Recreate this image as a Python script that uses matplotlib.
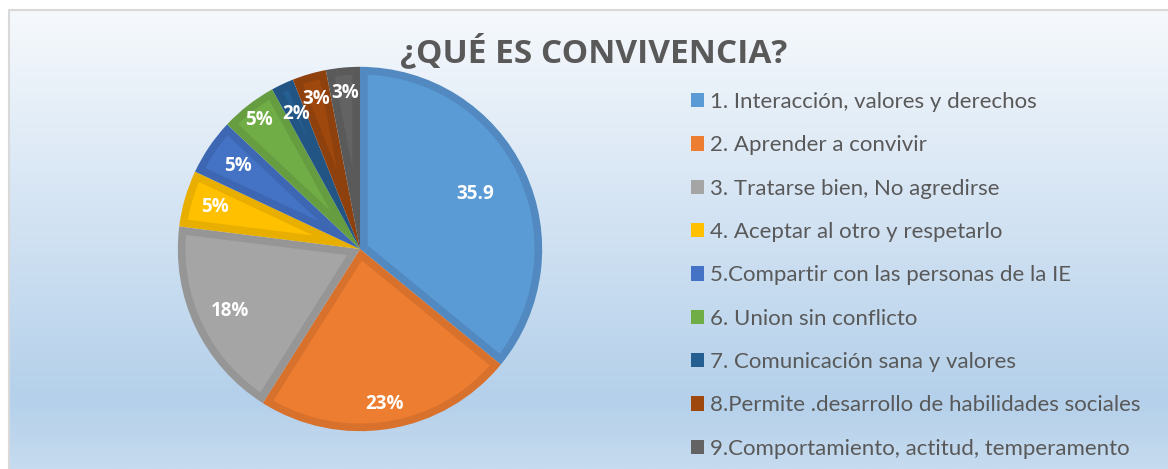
import numpy as np
import matplotlib
matplotlib.use("Agg")
import matplotlib.pyplot as plt
from matplotlib.patches import Rectangle, Polygon
from matplotlib.colors import LinearSegmentedColormap

# data
categories = [
    "1. Interacción, valores y derechos",
    "2. Aprender a convivir",
    "3. Tratarse bien, No agredirse",
    "4. Aceptar al otro y respetarlo",
    "5.Compartir con las personas de la IE",
    "6. Union sin conflicto",
    "7. Comunicación sana y valores",
    "8.Permite .desarrollo de habilidades sociales",
    "9.Comportamiento, actitud, temperamento",
]
values = [35.9, 23, 18, 5, 5, 5, 2, 3, 3]
value_labels = ["35.9", "23%", "18%", "5%", "5%", "5%", "2%", "3%", "3%"]
colors = ["#5b9bd5", "#ed7d31", "#a5a5a5", "#ffc000", "#4472c4",
          "#70ad47", "#255e91", "#9e480e", "#636363"]
edge_colors = ["#5189c0", "#d8712c", "#969696", "#e8ae00", "#3d67b2",
               "#669d40", "#225583", "#8f410d", "#5a5a5a"]
label_dist = [0.70, 0.86, 0.79, 0.83, 0.81, 0.90, 0.82, 0.86, 0.86]
title = "¿QUÉ ES CONVIVENCIA?"

W, H = 1168, 469
fig = plt.figure(figsize=(W / 100, H / 100), dpi=100)
fig.patch.set_facecolor("white")

# background box with vertical gradient
bg = fig.add_axes([0, 0, 1, 1])
bg.set_xlim(0, W)
bg.set_ylim(H, 0)
bg.axis("off")
cmap = LinearSegmentedColormap.from_list(
    "bg", [(0, "#f6f9fc"), (0.45, "#d3e3f3"), (0.85, "#b4d0ea"), (1, "#c6dbef")])
grad = np.linspace(0, 1, 256).reshape(-1, 1)
bg.imshow(grad, cmap=cmap, extent=(9, W, H, 10), aspect="auto", zorder=0)
bg.plot([9, 9, W], [H, 10, 10], color="#d9d9d9", lw=1.5, zorder=1)

# pie: darker base wedges + lighter inset for the bevel look
ax = fig.add_axes([176 / W, (H - 433) / H, 368 / W, 368 / H])
wedges, _ = ax.pie(values, colors=edge_colors, startangle=90, counterclock=False,
                   radius=1, wedgeprops=dict(linewidth=0))
bevel = 0.042
for w, c in zip(wedges, colors):
    t1, t2 = np.deg2rad(w.theta1), np.deg2rad(w.theta2)
    half = (t2 - t1) / 2
    r_in = 1 - bevel
    apex = bevel / np.sin(half)
    if apex >= r_in * 0.9:
        continue
    delta = np.arcsin(bevel / r_in)
    mid = (t1 + t2) / 2
    arc = np.linspace(t1 + delta, t2 - delta, 80)
    pts = [(apex * np.cos(mid), apex * np.sin(mid))]
    pts += list(zip(r_in * np.cos(arc), r_in * np.sin(arc)))
    ax.add_patch(Polygon(pts, closed=True, facecolor=c, edgecolor="none", zorder=2))

for w, lab, d in zip(wedges, value_labels, label_dist):
    ang = np.deg2rad((w.theta1 + w.theta2) / 2)
    ax.text(d * np.cos(ang), d * np.sin(ang), lab, ha="center", va="center",
            color="white", fontsize=13.5, fontweight="bold", family="Open Sans",
            zorder=5)
ax.set_xlim(-1.01, 1.01)
ax.set_ylim(-1.01, 1.01)
ax.set_aspect("equal")
ax.axis("off")

fig.text(594 / W, 1 - 52 / H, title, ha="center", va="center", fontsize=24,
         fontweight="bold", color="#595959", family="Open Sans")

handles = [Rectangle((0, 0), 1, 1, facecolor=c, edgecolor="none") for c in colors]
leg = fig.legend(handles, categories, loc="upper left",
                 bbox_to_anchor=(691 / W, 1 - 92 / H), frameon=False,
                 borderpad=0, borderaxespad=0,
                 handlelength=0.6, handleheight=0.6, handletextpad=0.25,
                 labelspacing=1.05, prop=dict(family="Lato", size=16))
for t in leg.get_texts():
    t.set_color("#595959")

fig.savefig("out.png", dpi=100)
